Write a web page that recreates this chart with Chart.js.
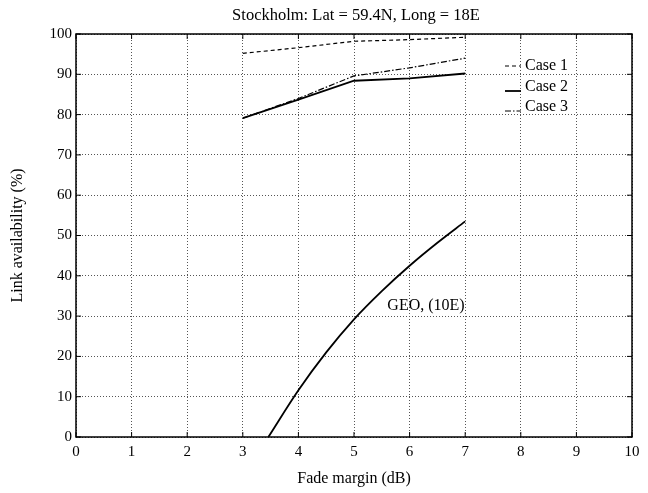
<!DOCTYPE html>
<html>
<head>
<meta charset="utf-8">
<script src="https://cdn.jsdelivr.net/npm/chart.js@4.4.1/dist/chart.umd.min.js"></script>
<style>
  html, body { margin: 0; padding: 0; background: #fff; }
  #wrap { width: 648px; height: 493px; }
</style>
</head>
<body>
<div id="wrap"><canvas id="myChart" width="648" height="493"></canvas></div>
<script>
// values
const fadeMargin = [3, 4, 5, 6, 7];
const case1 = [95.2, 96.6, 98.2, 98.6, 99.2];
const case2 = [79.1, 83.7, 88.4, 89.0, 90.2];
const case3 = [79.1, 84.0, 89.6, 91.6, 94.0];
const geoX = [3.46, 4, 4.5, 5, 5.5, 6, 6.5, 7];
const geoY = [0, 11.6, 21, 29.2, 36.2, 42.5, 48.2, 53.5];
const xTicks = [0, 1, 2, 3, 4, 5, 6, 7, 8, 9, 10];
const yTicks = [0, 10, 20, 30, 40, 50, 60, 70, 80, 90, 100];
const chartTitle = 'Stockholm: Lat = 59.4N, Long = 18E';

const serif = "'Liberation Serif', 'DejaVu Serif', serif";

const pts = (xs, ys) => xs.map((x, i) => ({ x: x, y: ys[i] }));

// matlab style box, inward ticks, title over the plot, legend and the GEO note
const boxPlugin = {
  id: 'boxPlugin',
  afterDraw(chart) {
    const { ctx, chartArea: a, scales } = chart;
    ctx.save();
    ctx.strokeStyle = '#000';
    ctx.lineWidth = 1.5;
    ctx.strokeRect(a.left, a.top, a.right - a.left, a.bottom - a.top);
    ctx.lineWidth = 1;
    ctx.beginPath();
    xTicks.forEach(v => {
      const px = scales.x.getPixelForValue(v);
      ctx.moveTo(px, a.bottom); ctx.lineTo(px, a.bottom - 5);
      ctx.moveTo(px, a.top); ctx.lineTo(px, a.top + 5);
    });
    yTicks.forEach(v => {
      const py = scales.y.getPixelForValue(v);
      ctx.moveTo(a.left, py); ctx.lineTo(a.left + 5, py);
      ctx.moveTo(a.right, py); ctx.lineTo(a.right - 5, py);
    });
    ctx.stroke();

    ctx.fillStyle = '#000';
    ctx.textBaseline = 'middle';

    // title, centred on the plot box
    ctx.font = '16.5px ' + serif;
    ctx.textAlign = 'center';
    ctx.fillText(chartTitle, (a.left + a.right) / 2 + 2, 16);

    // legend (top right, no frame)
    ctx.font = '16px ' + serif;
    ctx.textAlign = 'left';
    const rows = [66, 87, 107];
    chart.data.datasets.slice(0, 3).forEach((ds, i) => {
      const y = rows[i];
      ctx.setLineDash(ds.borderDash || []);
      ctx.lineWidth = ds.borderWidth;
      ctx.beginPath();
      ctx.moveTo(505, y + (i ? 4 : 0));
      ctx.lineTo(521, y + (i ? 4 : 0));
      ctx.stroke();
      ctx.setLineDash([]);
      ctx.fillText(ds.label, 525, y);
    });

    // curve note
    ctx.fillText('GEO, (10E)', scales.x.getPixelForValue(5.6), scales.y.getPixelForValue(32.6));
    ctx.restore();
  }
};

const ctx = document.getElementById('myChart').getContext('2d');
const myChart = new Chart(ctx, {
  type: 'line',
  data: {
    datasets: [{
        label: 'Case 1',
        data: pts(fadeMargin, case1),
        borderColor: '#000',
        borderWidth: 1.2,
        borderDash: [4, 3],
      }, {
        label: 'Case 2',
        data: pts(fadeMargin, case2),
        borderColor: '#000',
        borderWidth: 1.8,
      }, {
        label: 'Case 3',
        data: pts(fadeMargin, case3),
        borderColor: '#000',
        borderWidth: 1.2,
        borderDash: [6, 2, 1.5, 2],
      }, {
        label: 'GEO, (10E)',
        data: pts(geoX, geoY),
        borderColor: '#000',
        borderWidth: 1.8,
        cubicInterpolationMode: 'monotone',
      }
    ]
  },
  options: {
    responsive: false,
    animation: false,
    layout: { padding: { left: 0, right: 16, top: 34, bottom: 0 } },
    elements: { point: { radius: 0 }, line: { fill: false } },
    plugins: {
      legend: { display: false },
      tooltip: { enabled: false },
      title: { display: false }
    },
    scales: {
      x: {
        type: 'linear',
        min: 0, max: 10,
        afterBuildTicks: s => { s.ticks = xTicks.map(v => ({ value: v })); },
        afterFit: s => { s.height = 56; },
        ticks: { color: '#000', font: { family: serif, size: 15 }, padding: 6, maxRotation: 0 },
        grid: { color: '#555', lineWidth: 1, drawTicks: false },
        border: { display: false, dash: [1, 2] },
        title: {
          display: true, text: 'Fade margin (dB)', color: '#000',
          font: { family: serif, size: 16 }, padding: { top: 0, bottom: 5 }
        }
      },
      y: {
        min: 0, max: 100,
        afterBuildTicks: s => { s.ticks = yTicks.map(v => ({ value: v })); },
        afterFit: s => { s.width = 76; },
        ticks: { color: '#000', font: { family: serif, size: 15 }, padding: 4 },
        grid: { color: '#555', lineWidth: 1, drawTicks: false },
        border: { display: false, dash: [1, 2] },
        title: {
          display: true, text: 'Link availability (%)', color: '#000',
          font: { family: serif, size: 16 }, padding: { top: 8, bottom: 0 }
        }
      }
    }
  },
  plugins: [boxPlugin]
});
</script>
</body>
</html>
